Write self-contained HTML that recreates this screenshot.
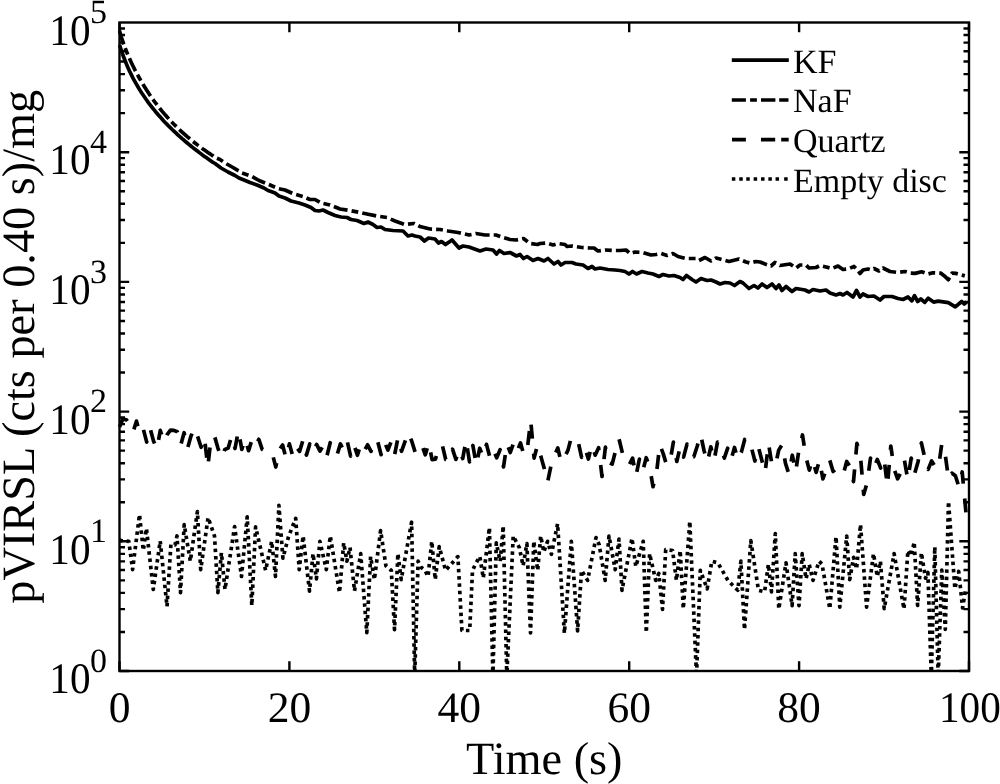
<!DOCTYPE html>
<html><head><meta charset="utf-8"><style>
html,body{margin:0;padding:0;background:#fff;overflow:hidden;width:1000px;height:784px;}
svg{display:block;will-change:transform;}
text{font-family:"Liberation Serif",serif;fill:#000;text-rendering:geometricPrecision;}
.t{font-size:43.5px;}
.s{font-size:34px;}
.g{font-size:34px;}
.l{font-size:46.3px;}
</style></head><body>
<svg width="1000" height="784" viewBox="0 0 1000 784">
<rect x="0" y="0" width="1000" height="784" fill="#fff"/>
<defs><clipPath id="c"><rect x="117.7" y="21.0" width="853.1" height="650.0"/></clipPath></defs>
<g clip-path="url(#c)" fill="none" stroke="#000" stroke-width="3.7" stroke-linejoin="round">
<path d="M119.5,540.0 121.1,540.6 128.8,541.3 132.6,569.6 139.5,514.5 143.3,550.5 146.4,528.3 153.3,589.5 160.2,541.0 167.0,606.4 170.9,544.4 175.0,545.0 177.0,536.0 180.5,592.6 184.2,524.5 190.3,561.2 197.4,511.5 200.7,569.6 208.1,517.6 214.5,536.0 217.9,592.6 221.4,552.8 225.0,589.5 234.6,526.6 241.5,576.5 247.2,516.8 251.8,605.6 255.6,526.8 265.6,570.4 271.7,541.3 275.5,576.5 278.9,505.4 282.9,558.2 288.5,536.7 295.7,518.4 299.2,569.6 303.1,536.0 309.5,591.1 313.0,553.6 316.4,578.8 319.9,541.3 326.3,569.6 330.3,536.0 339.5,592.6 343.7,542.9 346.9,561.2 350.0,547.5 354.5,591.0 360.7,553.6 366.8,632.7 370.6,556.6 374.4,579.6 380.6,530.6 385.9,565.8 391.3,570.4 394.5,629.6 397.9,553.6 401.2,579.6 411.6,522.2 414.7,676.0 418.1,561.2 421.1,567.3 425.0,570.4 428.0,576.5 431.8,541.3 435.2,579.6 439.2,546.7 445.6,570.4 457.9,556.6 461.9,630.5 465.8,630.5 469.7,630.5 472.5,570.7 475.3,564.4 479.8,556.5 483.3,578.0 489.4,527.6 492.9,676.0 496.3,542.9 500.2,561.2 503.2,526.0 506.8,676.0 513.2,536.0 519.3,547.5 523.1,565.8 526.9,543.6 530.5,633.0 533.8,541.3 537.7,570.4 540.7,536.0 543.8,552.0 547.6,541.3 551.4,554.3 557.6,523.7 564.4,633.2 571.3,541.3 577.6,630.8 581.5,570.4 587.6,580.4 596.0,537.5 599.1,544.4 605.2,580.4 609.0,536.0 615.2,569.6 619.0,539.0 622.0,590.3 632.0,538.3 635.8,566.6 643.2,541.3 646.3,632.7 649.6,553.6 655.7,580.4 658.8,573.5 662.5,609.3 665.7,549.7 672.6,550.5 676.4,580.4 680.2,550.5 683.3,608.7 689.8,521.4 696.5,676.0 700.3,570.4 707.2,588.8 711.8,561.2 717.9,562.8 727.9,580.4 737.8,590.3 740.9,561.2 744.5,629.6 750.8,540.6 758.5,590.3 764.6,591.8 768.4,564.3 771.5,591.8 775.3,533.7 778.8,609.0 786.0,562.8 792.1,605.6 795.2,553.6 799.0,605.6 802.2,553.6 806.1,578.8 809.2,564.3 813.0,580.4 819.1,561.2 822.0,564.0 829.8,608.7 836.0,536.7 839.8,607.1 846.7,536.0 849.7,579.6 853.6,557.4 856.6,568.9 860.5,524.5 866.6,607.1 873.5,553.6 877.3,576.5 880.4,561.2 884.2,608.7 894.1,553.6 904.0,609.0 907.9,550.5 911.0,556.0 914.2,542.1 917.6,605.5 921.4,552.7 925.5,578.2 927.9,572.4 931.3,676.0 934.8,546.9 938.2,676.0 941.8,570.1 945.3,629.3 948.5,501.6 954.9,588.8 958.7,571.5 962.6,608.0 965.5,590.0" stroke-dasharray="3.5 3.8"/>
<path d="M119.5,427.0 122.9,419.0 126.3,419.7 129.7,424.3 133.1,432.0 136.5,421.1 139.9,434.0 143.3,429.0 146.7,442.1 150.1,428.2 153.5,441.0 156.9,448.9 160.3,430.4 163.7,441.9 167.1,434.7 170.5,430.2 173.9,430.4 177.3,431.8 180.7,445.3 184.1,432.7 187.5,448.5 190.9,436.3 194.3,428.0 197.7,436.6 201.1,447.3 204.4,437.1 207.8,467.0 211.2,437.0 214.6,436.4 218.0,448.3 221.4,458.0 224.8,449.5 228.2,448.1 231.6,436.1 235.0,448.5 238.4,430.6 241.8,449.4 245.2,438.6 248.6,450.7 252.0,439.5 255.4,445.9 258.8,439.3 262.2,449.4 265.6,451.4 269.0,455.0 272.4,454.0 275.8,467.0 279.2,450.1 282.6,445.0 286.0,458.2 289.4,443.9 292.8,456.1 296.2,446.5 299.6,451.4 303.0,440.1 306.4,455.1 309.8,443.9 313.2,452.4 316.6,444.4 320.0,451.1 323.4,445.5 326.8,456.5 330.2,442.7 333.6,451.3 337.0,455.1 340.4,443.9 343.8,450.7 347.2,441.2 350.6,456.1 354.0,444.8 357.4,455.3 360.8,444.1 364.2,450.8 367.6,444.8 371.0,451.4 374.3,439.8 377.7,441.4 381.1,454.7 384.5,442.1 387.9,450.1 391.3,441.2 394.7,454.4 398.1,437.4 401.5,451.3 404.9,441.9 408.3,432.5 411.7,441.0 415.1,452.0 418.5,452.6 421.9,445.1 425.3,454.8 428.7,443.0 432.1,459.6 435.5,459.1 438.9,446.1 442.3,445.1 445.7,459.5 449.1,460.9 452.5,449.2 455.9,459.4 459.3,449.6 462.7,458.6 466.1,440.2 469.5,461.8 472.9,445.5 476.3,465.0 479.7,448.2 483.1,456.7 486.5,444.4 489.9,457.4 493.3,449.4 496.7,457.8 500.1,449.7 503.5,467.0 506.9,443.8 510.3,452.5 513.7,442.6 517.1,451.4 520.5,442.9 523.9,454.9 527.3,449.0 530.7,420.4 534.1,458.1 537.5,445.1 540.9,456.5 544.2,468.2 547.6,482.0 551.0,465.7 554.4,455.7 557.8,448.0 561.2,462.2 564.6,457.1 568.0,450.1 571.4,437.0 574.8,440.9 578.2,441.8 581.6,457.4 585.0,447.8 588.4,459.1 591.8,444.8 595.2,455.2 598.6,447.7 602.0,476.5 605.4,447.2 608.8,462.7 612.2,464.1 615.6,450.6 619.0,438.9 622.4,452.9 625.8,456.5 629.2,464.9 632.6,458.1 636.0,475.9 639.4,459.0 642.8,470.8 646.2,457.7 649.6,466.6 653.0,486.7 656.4,474.0 659.8,444.6 663.2,453.6 666.6,465.0 670.0,461.9 673.4,442.0 676.8,461.5 680.2,446.9 683.6,457.1 687.0,444.1 690.4,455.4 693.8,456.7 697.2,446.2 700.6,434.4 704.0,450.4 707.4,462.2 710.8,446.8 714.1,460.5 717.5,442.0 720.9,446.4 724.3,458.1 727.7,448.2 731.1,459.6 734.5,447.5 737.9,459.7 741.3,452.4 744.7,439.5 748.1,449.0 751.5,447.9 754.9,461.0 758.3,446.7 761.7,459.8 765.1,472.7 768.5,443.4 771.9,464.4 775.3,466.3 778.7,450.1 782.1,444.6 785.5,463.4 788.9,474.0 792.3,455.2 795.7,472.0 799.1,448.5 802.5,435.0 805.9,456.9 809.3,470.1 812.7,459.4 816.1,472.4 819.5,460.2 822.9,479.0 826.3,469.4 829.7,460.0 833.1,471.5 836.5,468.3 839.9,471.4 843.3,474.1 846.7,461.5 850.1,466.5 853.5,481.6 856.9,443.4 860.3,454.2 863.7,494.4 867.1,482.9 870.5,458.0 873.9,468.1 877.3,459.5 880.7,468.0 884.0,458.5 887.4,486.0 890.8,446.0 894.2,469.2 897.6,478.8 901.0,472.5 904.4,460.1 907.8,479.6 911.2,458.1 914.6,473.7 918.0,461.9 921.4,442.9 924.8,458.0 928.2,469.4 931.6,460.9 935.0,466.5 938.4,468.2 941.8,443.6 945.2,454.3 948.6,479.3 952.0,473.2 955.4,475.8 958.8,486.6 962.2,472.0 966.1,514.0" stroke-dasharray="14 15"/>
<path d="M119.5,30.8 121.2,36.8 122.9,41.9 124.6,46.6 126.3,51.0 128.0,55.1 129.7,59.0 131.4,62.7 133.1,66.2 134.8,69.6 136.5,72.8 138.2,76.0 139.9,79.0 141.6,81.9 143.3,84.8 145.0,87.6 146.7,90.2 148.4,92.8 150.1,95.4 151.8,97.8 153.5,100.2 155.2,102.5 156.9,104.7 158.6,106.9 160.3,109.0 162.0,111.1 163.7,113.1 165.4,115.1 167.1,117.0 168.8,118.9 170.5,120.7 172.2,122.5 173.9,124.2 175.6,125.9 177.3,127.6 179.0,129.2 180.7,130.8 182.4,132.4 184.1,133.9 185.8,135.4 187.5,136.9 189.2,138.3 190.9,139.7 192.6,141.1 194.3,142.5 196.0,143.8 197.7,145.1 199.4,146.4 201.1,147.6 202.8,148.9 204.5,150.1 206.2,151.3 207.9,152.5 209.6,153.6 211.3,154.8 213.0,155.9 215.0,157.5 220.0,159.5 225.0,163.0 233.0,167.5 242.0,173.0 252.0,176.5 259.0,180.5 269.0,184.5 278.0,188.5 285.0,190.0 293.0,193.5 303.0,196.5 310.0,199.5 315.0,199.5 321.0,203.0 330.0,205.0 340.0,209.0 350.0,210.5 360.0,212.5 367.0,214.0 377.0,216.0 387.0,217.5 395.0,221.0 405.0,224.5 414.0,223.5 420.0,226.5 430.0,229.0 440.0,229.5 448.0,231.0 458.0,232.5 469.0,235.0 476.0,233.5 485.0,235.0 496.0,235.0 503.0,237.5 510.0,239.5 516.0,240.0 523.5,238.5 530.0,243.5 537.5,244.5 540.0,243.5 547.0,243.0 553.0,245.0 558.0,243.5 565.0,244.5 567.0,246.5 572.0,246.0 582.0,247.5 590.0,248.0 594.0,248.0 598.0,251.0 605.0,250.0 614.0,250.5 620.0,250.5 626.0,250.0 630.0,253.5 635.0,252.0 643.0,252.5 651.0,255.0 656.0,254.5 661.0,253.5 667.0,255.5 673.0,253.5 678.0,256.5 686.0,258.5 696.0,258.5 699.0,260.5 705.0,257.5 711.0,261.0 716.0,258.0 720.0,259.0 729.0,261.5 739.0,259.0 746.0,262.0 750.0,263.0 756.0,261.5 760.0,262.0 765.0,264.0 771.0,266.0 775.0,262.5 780.0,265.5 790.0,264.0 796.0,268.0 800.0,265.0 806.0,265.0 809.0,268.0 816.0,267.5 820.0,265.5 826.0,267.0 832.0,268.5 838.0,266.0 843.0,269.5 848.0,269.0 854.0,266.5 858.0,270.5 860.0,273.5 863.0,270.0 868.0,269.0 871.0,270.0 874.0,268.5 879.0,271.0 883.0,268.0 890.0,271.5 898.0,272.5 905.0,271.5 910.0,273.1 915.1,273.4 921.5,271.8 927.9,274.0 933.0,272.8 940.6,273.1 944.4,275.9 948.3,279.8 952.1,273.1 955.9,273.4 964.8,275.9" stroke-dasharray="14.2 4.1 6.8 4.1"/>
<path d="M119.5,44.9 121.2,50.1 122.9,55.0 124.6,59.5 126.3,63.8 128.0,67.7 129.7,71.4 131.4,74.9 133.1,78.3 134.8,81.4 136.5,84.4 138.2,87.3 139.9,90.1 141.6,92.8 143.3,95.3 145.0,97.8 146.7,100.2 148.4,102.6 150.1,104.8 151.8,107.0 153.5,109.1 155.2,111.2 156.9,113.2 158.6,115.2 160.3,117.1 162.0,119.0 163.7,120.9 165.4,122.7 167.1,124.4 168.8,126.2 170.5,127.8 172.2,129.5 173.9,131.1 175.6,132.7 177.3,134.3 179.0,135.9 180.7,137.4 182.4,138.9 184.1,140.3 185.8,141.8 187.5,143.2 189.2,144.6 190.9,146.0 192.6,147.4 194.3,148.7 196.0,150.0 197.7,151.3 199.4,152.6 201.1,153.9 202.8,155.2 204.5,156.4 206.2,157.6 207.9,158.8 209.6,160.0 211.3,161.2 213.0,162.4 215.0,163.5 221.0,168.0 228.0,172.0 235.0,175.5 239.0,178.0 244.0,180.0 250.0,182.5 257.0,185.0 264.0,188.0 268.0,190.5 271.0,191.5 275.0,193.0 279.0,196.0 285.0,198.0 291.0,201.0 299.0,203.0 305.0,205.0 311.0,207.5 315.0,210.5 319.0,211.0 323.0,210.0 328.0,212.5 335.0,215.5 341.0,217.0 347.0,217.5 351.0,219.5 357.0,220.5 364.0,223.5 368.0,222.0 373.0,224.5 377.0,227.5 381.0,227.0 385.0,229.5 393.0,230.5 403.0,231.0 408.0,236.0 412.0,235.0 415.0,236.0 420.0,237.0 424.5,241.0 428.5,238.0 435.0,239.0 438.5,243.0 441.5,241.5 445.5,244.5 452.0,240.0 459.0,248.0 463.0,246.0 469.0,247.0 480.0,251.0 486.0,249.0 493.0,250.0 496.5,254.0 499.5,250.5 504.0,253.5 510.0,252.5 516.5,256.0 520.0,254.5 523.5,258.5 527.0,256.5 533.0,260.5 538.0,258.5 544.0,261.0 548.0,258.5 554.0,264.0 558.0,261.5 561.0,265.0 565.0,262.5 572.0,262.5 576.0,264.0 583.0,265.0 588.0,268.5 592.0,266.5 595.0,269.0 600.0,268.0 608.0,269.5 615.0,270.0 620.0,270.5 625.0,271.5 629.0,274.0 632.5,271.5 636.5,274.0 642.0,271.5 648.0,273.0 653.0,274.0 659.0,276.5 663.0,274.5 669.0,276.0 674.0,275.5 680.0,277.5 683.0,279.5 686.5,275.5 692.0,279.5 696.0,282.0 701.0,278.5 707.0,280.5 711.0,280.0 716.0,282.0 720.0,284.0 725.0,282.5 730.0,283.0 734.5,285.5 740.0,281.5 743.0,283.0 749.0,288.5 754.0,285.5 758.0,288.0 762.0,284.0 767.0,287.5 772.0,284.0 776.0,288.5 779.0,285.0 782.0,290.5 786.0,286.5 792.0,291.5 796.0,288.5 805.0,290.0 809.0,292.0 813.0,289.5 820.0,291.0 826.0,290.0 830.0,293.0 836.0,295.0 840.0,293.5 843.0,295.0 847.0,292.5 853.0,297.0 856.5,290.5 860.0,297.0 863.0,294.0 868.0,296.5 874.0,296.0 880.0,300.0 884.0,296.5 892.0,296.5 898.0,298.5 903.0,299.5 908.0,297.0 911.9,300.8 914.5,295.7 917.7,301.5 920.8,298.9 924.7,302.4 928.2,298.3 933.6,302.1 938.1,301.1 948.3,302.7 955.3,306.9 961.7,301.5 964.2,304.0 966.8,302.1"/>
</g>
<path d="M119.50 671.00V661.30M119.50 22.50V32.20M289.40 671.00V661.30M289.40 22.50V32.20M459.30 671.00V661.30M459.30 22.50V32.20M629.20 671.00V661.30M629.20 22.50V32.20M799.10 671.00V661.30M799.10 22.50V32.20M969.00 671.00V661.30M969.00 22.50V32.20M119.50 671.00H129.20M969.00 671.00H959.30M119.50 631.96H125.00M969.00 631.96H963.50M119.50 609.12H125.00M969.00 609.12H963.50M119.50 592.91H125.00M969.00 592.91H963.50M119.50 580.34H125.00M969.00 580.34H963.50M119.50 570.07H125.00M969.00 570.07H963.50M119.50 561.39H125.00M969.00 561.39H963.50M119.50 553.87H125.00M969.00 553.87H963.50M119.50 547.23H125.00M969.00 547.23H963.50M119.50 541.30H129.20M969.00 541.30H959.30M119.50 502.26H125.00M969.00 502.26H963.50M119.50 479.42H125.00M969.00 479.42H963.50M119.50 463.21H125.00M969.00 463.21H963.50M119.50 450.64H125.00M969.00 450.64H963.50M119.50 440.37H125.00M969.00 440.37H963.50M119.50 431.69H125.00M969.00 431.69H963.50M119.50 424.17H125.00M969.00 424.17H963.50M119.50 417.53H125.00M969.00 417.53H963.50M119.50 411.60H129.20M969.00 411.60H959.30M119.50 372.56H125.00M969.00 372.56H963.50M119.50 349.72H125.00M969.00 349.72H963.50M119.50 333.51H125.00M969.00 333.51H963.50M119.50 320.94H125.00M969.00 320.94H963.50M119.50 310.67H125.00M969.00 310.67H963.50M119.50 301.99H125.00M969.00 301.99H963.50M119.50 294.47H125.00M969.00 294.47H963.50M119.50 287.83H125.00M969.00 287.83H963.50M119.50 281.90H129.20M969.00 281.90H959.30M119.50 242.86H125.00M969.00 242.86H963.50M119.50 220.02H125.00M969.00 220.02H963.50M119.50 203.81H125.00M969.00 203.81H963.50M119.50 191.24H125.00M969.00 191.24H963.50M119.50 180.97H125.00M969.00 180.97H963.50M119.50 172.29H125.00M969.00 172.29H963.50M119.50 164.77H125.00M969.00 164.77H963.50M119.50 158.13H125.00M969.00 158.13H963.50M119.50 152.20H129.20M969.00 152.20H959.30M119.50 113.16H125.00M969.00 113.16H963.50M119.50 90.32H125.00M969.00 90.32H963.50M119.50 74.11H125.00M969.00 74.11H963.50M119.50 61.54H125.00M969.00 61.54H963.50M119.50 51.27H125.00M969.00 51.27H963.50M119.50 42.59H125.00M969.00 42.59H963.50M119.50 35.07H125.00M969.00 35.07H963.50M119.50 28.43H125.00M969.00 28.43H963.50" stroke="#000" stroke-width="2.4" fill="none"/>
<rect x="119.5" y="22.5" width="849.5" height="648.5" stroke="#000" stroke-width="2.4" fill="none"/>
<text x="119.50" y="722" text-anchor="middle" class="t">0</text>
<text x="289.40" y="722" text-anchor="middle" class="t">20</text>
<text x="459.30" y="722" text-anchor="middle" class="t">40</text>
<text x="629.20" y="722" text-anchor="middle" class="t">60</text>
<text x="799.10" y="722" text-anchor="middle" class="t">80</text>
<text x="969.90" y="722" text-anchor="middle" class="t" textLength="61.8" lengthAdjust="spacingAndGlyphs">100</text>
<text x="49.3" y="693.20" class="t" textLength="41.2" lengthAdjust="spacingAndGlyphs">10</text>
<text x="90" y="671.80" class="s">0</text>
<text x="49.3" y="563.50" class="t" textLength="41.2" lengthAdjust="spacingAndGlyphs">10</text>
<text x="90" y="542.10" class="s">1</text>
<text x="49.3" y="433.80" class="t" textLength="41.2" lengthAdjust="spacingAndGlyphs">10</text>
<text x="90" y="412.40" class="s">2</text>
<text x="49.3" y="304.10" class="t" textLength="41.2" lengthAdjust="spacingAndGlyphs">10</text>
<text x="90" y="282.70" class="s">3</text>
<text x="49.3" y="174.40" class="t" textLength="41.2" lengthAdjust="spacingAndGlyphs">10</text>
<text x="90" y="153.00" class="s">4</text>
<text x="49.3" y="44.70" class="t" textLength="41.2" lengthAdjust="spacingAndGlyphs">10</text>
<text x="90" y="23.30" class="s">5</text>
<text x="544.25" y="774" text-anchor="middle" class="l">Time (s)</text>
<text transform="translate(33.6 346.75) rotate(-90)" text-anchor="middle" class="l">pVIRSL (cts per 0.40 s)/mg</text>
<text x="793" y="72.50" class="g">KF</text>
<text x="793" y="112.20" class="g">NaF</text>
<text x="793" y="151.90" class="g">Quartz</text>
<text x="793" y="191.60" class="g">Empty disc</text>
<path d="M731.8 60.1H788.8M731.8 100.0H745.9M750.1 100.0H756.9M761.0 100.0H775.4M779.2 100.0H788.5M732.0 139.7H745.9M761.0 139.7H775.2M781.2 139.7H788.7M731.85 179.0H735.35M739.25 179.0H742.75M746.25 179.0H749.75M753.65 179.0H757.15M761.05 179.0H764.55M768.35 179.0H771.85M775.55 179.0H779.05M784.15 179.0H787.65" stroke="#000" stroke-width="3.7" fill="none"/>
</svg>
</body></html>
